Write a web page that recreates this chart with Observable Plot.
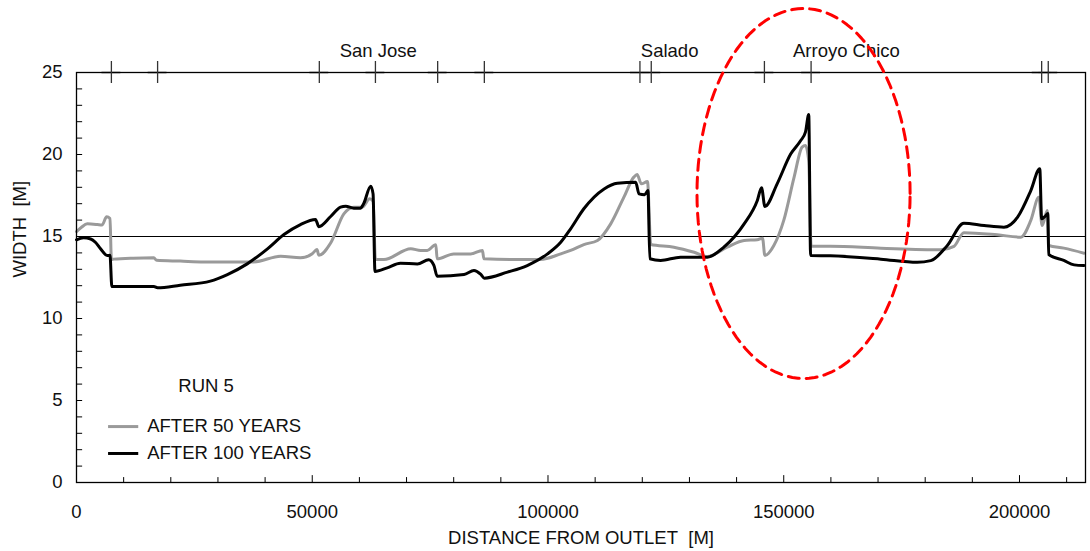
<!DOCTYPE html>
<html><head><meta charset="utf-8">
<script src="https://cdn.jsdelivr.net/npm/d3@7"></script>
<script src="https://cdn.jsdelivr.net/npm/@observablehq/plot@0.6"></script>
<style>body{margin:0;background:#fff} svg{display:block}</style>
</head><body><div id="chart"></div>
<script>
// ---- data (distance from outlet in m, width in m) ----
const dist50 = [0,1000,2300,4400,5400,6400,7100,7400,7900,12000,16400,17000,22000,27000,37600,43300,47500,50000,51000,51400,53900,56700,58800,60600,62200,62900,63400,65200,70900,73000,74400,76200,76500,80000,83600,86100,86400,94200,98400,102700,104800,107600,110500,113300,116100,118200,118900,119800,121100,121800,126700,131000,133800,138000,141600,144400,145500,146000,147900,150000,152200,153900,154600,155300,155800,159900,170600,183300,186100,188200,195300,200300,202400,204100,204800,205900,206200,209400,213700];
const width50 = [15.3,15.55,15.77,15.73,15.7,16.2,16.1,13.6,13.62,13.68,13.7,13.55,13.5,13.45,13.45,13.8,13.7,13.95,14.2,13.85,14.6,16.38,16.79,16.79,17.3,17.15,13.6,13.6,14.25,14.15,14.15,14.5,13.64,13.94,13.94,14.15,13.64,13.6,13.6,13.94,14.15,14.51,14.76,15.77,17.4,18.62,18.78,18.21,18.35,14.51,14.35,14.04,13.78,14.35,14.76,14.8,14.9,13.84,14.45,15.98,18.62,20.45,20.55,19.6,14.41,14.41,14.29,14.19,14.4,15.23,15.1,14.96,15.98,17.4,15.67,16.58,14.45,14.29,13.98];
const dist100 = [0,1500,3000,4000,5100,6500,7100,7500,16400,17200,22000,28400,32000,36200,40500,44000,47500,50700,51400,53900,56000,57100,58800,60200,60900,62400,62900,63300,65900,68700,72300,74700,75800,76500,82200,84300,85700,86500,91400,95600,99900,102700,104800,107600,111900,114700,118600,119300,120500,121200,121600,123900,128100,133800,137300,141600,144400,145300,146000,148600,151500,153600,154600,155300,155700,159900,170600,178300,181200,184700,188200,192500,196700,199600,202400,204300,204700,205600,206000,206200,209400,211600,213700];
const width100 = [14.8,14.92,14.85,14.65,14.25,13.84,13.86,11.95,11.95,11.87,12.03,12.28,12.68,13.33,14.25,15.12,15.73,16.04,15.6,16.22,16.79,16.85,16.73,16.73,17.0,18.07,17.6,12.87,13.09,13.37,13.33,13.58,13.24,12.58,12.68,12.93,12.7,12.46,12.83,13.23,13.94,14.65,15.47,16.69,17.9,18.25,18.31,17.6,17.55,17.8,13.64,13.54,13.74,13.74,14.35,15.77,17.2,17.97,16.83,18.21,20.04,20.85,21.36,22.44,13.84,13.82,13.62,13.43,13.53,14.45,15.81,15.67,15.57,16.18,17.8,19.13,16.08,16.28,16.4,13.9,13.54,13.27,13.23];
const tributaryDist = [7400,17200,51500,63400,76600,86500,119500,121900,145900,155800,204700,206100];
const tributaryNames = ["San Jose","Salado","Arroyo Chico"];
const tributaryLabelDist = [64000,125800,163300];
const xTickValues = [0,50000,100000,150000,200000];
const yTickValues = [0,5,10,15,20,25];
const xMinorTicks = d3.range(0,214000,10000);
const yMinorTicks = d3.range(0,26,1);
const seriesNames = ["AFTER 50 YEARS","AFTER 100 YEARS"];
const runLabel = "RUN 5";

const s50 = dist50.map((d,i)=>({x:d,y:width50[i]}));
const s100 = dist100.map((d,i)=>({x:d,y:width100[i]}));

// highlight ellipse annotation (data units)
const ell = {cx:154200, cy:17.62, rx:22600, ry:11.28};
const ellPts = d3.range(0,121).map(k=>{const t=k/120*2*Math.PI;return {x:ell.cx+ell.rx*Math.cos(t), y:ell.cy+ell.ry*Math.sin(t)};});

const font = "'Liberation Sans', Arial, sans-serif";
const fs = 18.5;
const chart = Plot.plot({
  width:1090, height:551,
  marginLeft:76, marginRight:5, marginTop:72, marginBottom:69,
  style:{fontFamily:font, fontSize:fs+"px", background:"#fff", color:"#111"},
  x:{domain:[0,214000]},
  y:{domain:[0,25]},
  marks:[
    Plot.ruleY([15],{stroke:"#000",strokeWidth:1}),
    Plot.line(s50,{x:"x",y:"y",stroke:"#9a9a9a",strokeWidth:3,curve:"monotone-x"}),
    Plot.line(s100,{x:"x",y:"y",stroke:"#000",strokeWidth:3,curve:"monotone-x"}),
    Plot.ruleX(xMinorTicks,{x:d=>d,y1:0,y2:d=>d%50000===0?0.42:0.3,stroke:"#000",strokeWidth:1}),
    Plot.ruleY(yMinorTicks,{y:d=>d,x1:0,x2:1300,stroke:"#000",strokeWidth:1}),
    Plot.ruleY(tributaryDist,{y:25,x1:d=>d-2000,x2:d=>d+2000,stroke:"#bbb",strokeWidth:2.5}),
    Plot.frame({stroke:"#000",strokeWidth:1.3}),
    Plot.ruleX(tributaryDist,{x:d=>d,y1:24.33,y2:25.67,stroke:"#333",strokeWidth:1.3}),
    Plot.text(tributaryNames,{x:(d,i)=>tributaryLabelDist[i],y:26.28,text:d=>d,fill:"#111",fontSize:fs}),
    Plot.line(ellPts,{x:"x",y:"y",stroke:"#ff0000",strokeWidth:3,strokeDasharray:"11,7"}),
    Plot.axisX({ticks:xTickValues,tickSize:0,tickPadding:22,tickFormat:d3.format("d"),label:null,fontSize:fs}),
    Plot.axisY({ticks:yTickValues,tickSize:0,tickPadding:14,label:null,fontSize:fs}),
    Plot.text(["WIDTH\u00a0 [M]"],{frameAnchor:"left",dx:-56,rotate:-90,text:d=>d,fontSize:fs}),
    Plot.text(["DISTANCE FROM OUTLET\u00a0 [M]"],{frameAnchor:"bottom",dy:61,text:d=>d,fontSize:fs}),
    Plot.text([runLabel],{x:21600,y:5.9,text:d=>d,textAnchor:"start",fontSize:fs}),
    Plot.ruleY([3.41],{x1:6800,x2:13200,stroke:"#9a9a9a",strokeWidth:3}),
    Plot.ruleY([1.77],{x1:6800,x2:13200,stroke:"#000",strokeWidth:3}),
    Plot.text([seriesNames[0]],{x:15000,y:3.41,text:d=>d,textAnchor:"start",fontSize:fs}),
    Plot.text([seriesNames[1]],{x:15000,y:1.77,text:d=>d,textAnchor:"start",fontSize:fs})
  ]
});
document.getElementById("chart").appendChild(chart);
</script></body></html>
